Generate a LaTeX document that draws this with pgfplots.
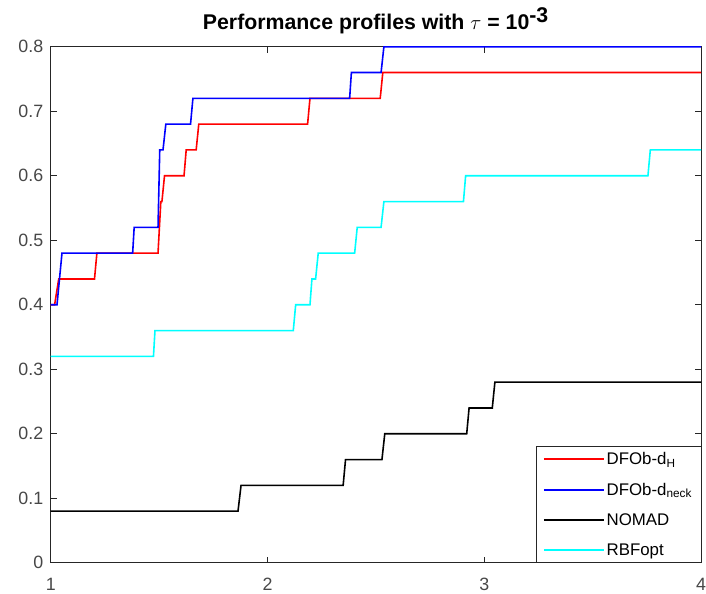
\documentclass[border=0pt]{standalone}
\usepackage{pgfplots}
\pgfplotsset{compat=1.18}
\usepackage{fontspec}
\setmainfont{Liberation Sans}

\definecolor{axgray}{HTML}{262626}
\definecolor{mred}{rgb}{1,0,0}
\definecolor{mblue}{rgb}{0,0,1}
\definecolor{mcyan}{rgb}{0,1,1}

\begin{document}
\begin{tikzpicture}
\begin{axis}[%
scale only axis,
width=654bp,
height=519bp,
xmin=1, xmax=4,
ymin=0, ymax=0.8,
xtick={1,2,3,4},
ytick={0,0.1,0.2,0.3,0.4,0.5,0.6,0.7,0.8},
yticklabel style={/pgf/number format/fixed},
/pgf/number format/assume math mode=true,
tick align=inside,
major tick length=6bp,
axis line style={axgray, line width=1bp},
every tick/.style={axgray, line width=1bp},
tick label style={font=\fontsize{18}{21}\selectfont, text=axgray!85},
xticklabel style={anchor=north, yshift=-15bp, inner sep=0pt},
yticklabel style={xshift=-4bp},
title={\textbf{Performance profiles with $\tau$ = 10$^{\textbf{-3}}$}},
title style={font=\fontsize{21.5}{24}\selectfont, at={(0.5,1)}, anchor=base, yshift=11bp, inner sep=0pt},
legend cell align=left,
legend style={
    at={(1,0)}, anchor=south east,
    draw=axgray,
    font=\fontsize{17}{20}\selectfont,
    inner xsep=7bp, inner ysep=4bp,
    row sep=13bp,
},
legend image code/.code={%
  \draw[#1, line width=2bp] (0bp,0bp) -- (60bp,0bp);},
]
\addplot[mred, line width=1.6bp] coordinates {
(1.000,0.40) (1.018,0.40) (1.037,0.44) (1.202,0.44) (1.213,0.48)
(1.495,0.48) (1.508,0.56) (1.513,0.56) (1.525,0.60) (1.615,0.60)
(1.625,0.64) (1.671,0.64) (1.683,0.68) (2.185,0.68) (2.196,0.72)
(2.520,0.72) (2.532,0.76) (4.000,0.76)
};
\addplot[mblue, line width=1.6bp] coordinates {
(1.000,0.40) (1.029,0.40) (1.052,0.48) (1.378,0.48) (1.385,0.52)
(1.495,0.52) (1.503,0.64) (1.518,0.64) (1.531,0.68) (1.645,0.68)
(1.656,0.72) (2.379,0.72) (2.387,0.76) (2.524,0.76) (2.537,0.80)
(4.000,0.80)
};
\addplot[black, line width=1.6bp] coordinates {
(1.000,0.08) (1.864,0.08) (1.878,0.12) (2.349,0.12) (2.360,0.16)
(2.528,0.16) (2.541,0.20) (2.919,0.20) (2.930,0.24) (3.037,0.24)
(3.049,0.28) (4.000,0.28)
};
\addplot[mcyan, line width=1.6bp] coordinates {
(1.000,0.32) (1.474,0.32) (1.481,0.36) (2.119,0.36) (2.130,0.40)
(2.196,0.40) (2.205,0.44) (2.222,0.44) (2.234,0.48) (2.402,0.48)
(2.414,0.52) (2.524,0.52) (2.537,0.56) (2.904,0.56) (2.914,0.60)
(3.755,0.60) (3.766,0.64) (4.000,0.64)
};
\legend{DFOb-d\textsubscript{H}, DFOb-d\textsubscript{neck}, NOMAD, RBFopt}
\end{axis}
\useasboundingbox ([xshift=-51bp,yshift=-31bp]current axis.south west)
  rectangle ([xshift=1bp,yshift=47bp]current axis.north east);
\end{tikzpicture}
\end{document}
